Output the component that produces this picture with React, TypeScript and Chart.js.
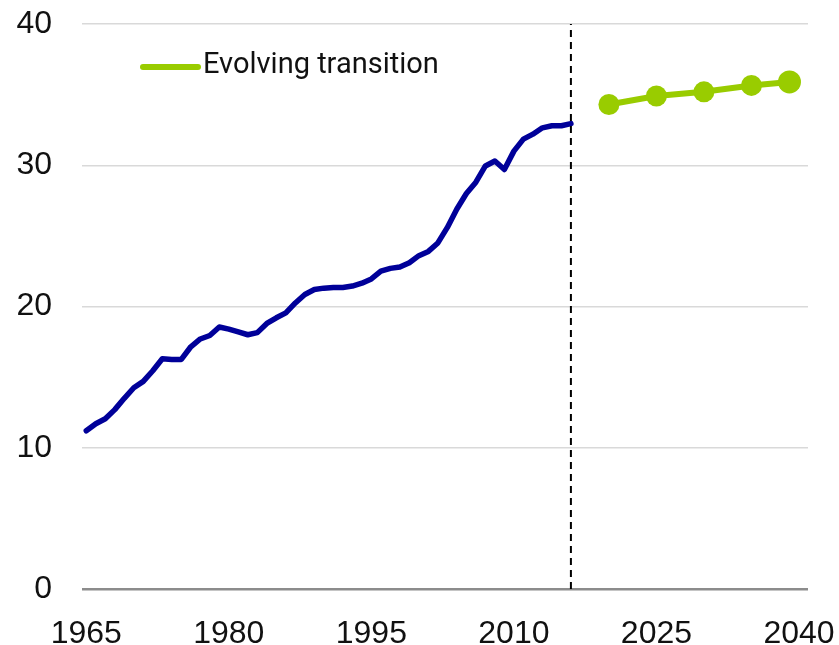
import React, { useEffect, useRef } from 'react';
import { Chart, registerables } from 'chart.js';

Chart.register(...registerables);

const historyYears: number[] = [
  1965, 1966, 1967, 1968, 1969, 1970, 1971, 1972, 1973, 1974,
  1975, 1976, 1977, 1978, 1979, 1980, 1981, 1982, 1983, 1984,
  1985, 1986, 1987, 1988, 1989, 1990, 1991, 1992, 1993, 1994,
  1995, 1996, 1997, 1998, 1999, 2000, 2001, 2002, 2003, 2004,
  2005, 2006, 2007, 2008, 2009, 2010, 2011, 2012, 2013, 2014,
  2015, 2016,
];
const historyValues: number[] = [
  11.2, 11.7, 12.05, 12.7, 13.5, 14.25, 14.7, 15.45, 16.3, 16.25,
  16.25, 17.15, 17.7, 17.95, 18.55, 18.4, 18.2, 18.0, 18.15, 18.8,
  19.2, 19.55, 20.25, 20.85, 21.2, 21.3, 21.35, 21.35, 21.45, 21.65,
  21.95, 22.5, 22.7, 22.8, 23.1, 23.6, 23.9, 24.5, 25.6, 26.9,
  28.0, 28.8, 29.95, 30.3, 29.7, 31.0, 31.85, 32.2, 32.65, 32.8,
  32.8, 32.95,
];
const outlookYears: number[] = [2020, 2025, 2030, 2035, 2039];
const outlookValues: number[] = [34.3, 34.9, 35.2, 35.65, 35.9];
const outlookLabel = 'Evolving transition';
const dividerYear = 2016;
const xTickYears: number[] = [1965, 1980, 1995, 2010, 2025, 2040];
const yMin = 0;
const yMax = 40;
const yStep = 10;

const BLUE = '#000099';
const GREEN = '#99cc00';

const legendPlugin = {
  id: 'insideLegend',
  afterDraw(chart: any) {
    const ctx = chart.ctx;
    const area = chart.chartArea;
    const x0 = area.left + 61;
    const y0 = area.top + 43;
    ctx.save();
    ctx.strokeStyle = GREEN;
    ctx.lineWidth = 6;
    ctx.lineCap = 'round';
    ctx.beginPath();
    ctx.moveTo(x0, y0);
    ctx.lineTo(x0 + 55, y0);
    ctx.stroke();
    ctx.fillStyle = '#111111';
    ctx.font = '29px Roboto, "Liberation Sans", sans-serif';
    ctx.textBaseline = 'middle';
    ctx.textAlign = 'left';
    ctx.fillText(outlookLabel, x0 + 60, y0 - 1);
    ctx.restore();
  },
};

export default function App() {
  const canvasRef = useRef<HTMLCanvasElement | null>(null);

  useEffect(() => {
    document.body.style.margin = '0';
    const canvas = canvasRef.current;
    if (!canvas) return;

    const history = historyYears.map((x, i) => ({ x, y: historyValues[i] }));
    const outlook = outlookYears.map((x, i) => ({ x, y: outlookValues[i] }));
    const divider = [
      { x: dividerYear, y: yMin },
      { x: dividerYear, y: yMax },
    ];

    const chart = new Chart(canvas, {
      type: 'line',
      data: {
        datasets: [
          {
            label: 'divider',
            data: divider,
            borderColor: '#000000',
            borderWidth: 2,
            borderDash: [7, 5],
            pointRadius: 0,
            fill: false,
          },
          {
            label: 'History',
            data: history,
            borderColor: BLUE,
            borderWidth: 5.5,
            pointRadius: 0,
            tension: 0,
            borderJoinStyle: 'round',
            borderCapStyle: 'round',
            fill: false,
          },
          {
            label: outlookLabel,
            data: outlook,
            borderColor: GREEN,
            backgroundColor: GREEN,
            borderWidth: 6,
            pointRadius: [10.5, 10.5, 10.5, 10.5, 11.5],
            pointBorderWidth: 0,
            pointBackgroundColor: GREEN,
            tension: 0,
            fill: false,
          },
        ],
      },
      options: {
        responsive: false,
        animation: false,
        layout: { autoPadding: false, padding: { left: 16, right: 31, top: 24, bottom: 0 } },
        plugins: {
          legend: { display: false },
          tooltip: { enabled: false },
        },
        scales: {
          x: {
            type: 'linear',
            min: 1964.55,
            max: 2040.95,
            afterBuildTicks: (scale: any) => {
              scale.ticks = xTickYears.map((v) => ({ value: v }));
            },
            afterFit: (scale: any) => {
              scale.height = 56;
            },
            grid: { display: true, drawOnChartArea: false, drawTicks: true, tickLength: 29, tickColor: 'rgba(0,0,0,0)' },
            border: { display: false },
            ticks: {
              autoSkip: false,
              maxRotation: 0,
              padding: 0,
              color: '#111111',
              font: { family: '"Liberation Sans", Arial, sans-serif', size: 32, lineHeight: 1 },
              callback: (v: any) => String(v),
            },
          },
          y: {
            min: yMin,
            max: yMax,
            afterFit: (scale: any) => {
              scale.width = 66;
            },
            grid: {
              drawTicks: true,
              tickLength: 30,
              tickColor: 'rgba(0,0,0,0)',
              color: (c: any) => (c.tick && c.tick.value === 0 ? '#8c8c8c' : '#d9d9d9'),
              lineWidth: (c: any) => (c.tick && c.tick.value === 0 ? 2.5 : 1.5),
            },
            border: { display: false },
            ticks: {
              stepSize: yStep,
              padding: 0,
              color: '#111111',
              font: { family: '"Liberation Sans", Arial, sans-serif', size: 32 },
            },
          },
        },
      },
      plugins: [legendPlugin],
    });

    return () => chart.destroy();
  }, []);

  return (
    <div style={{ width: 839, height: 645 }}>
      <canvas ref={canvasRef} width={839} height={645} style={{ display: 'block' }} />
    </div>
  );
}
